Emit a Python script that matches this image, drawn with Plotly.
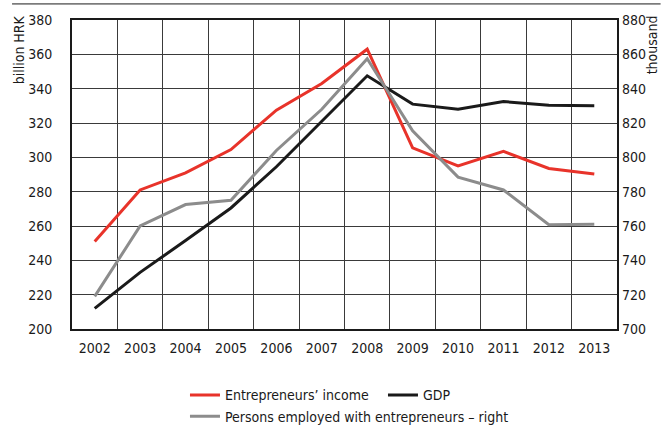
import plotly.graph_objects as go

years = ["2002", "2003", "2004", "2005", "2006", "2007", "2008",
         "2009", "2010", "2011", "2012", "2013"]
income = [251, 281, 291, 304.5, 327.5, 343, 363, 305.5, 295, 303.5, 293.5, 290.3]
gdp = [212, 233, 251.5, 270.5, 294.5, 321, 347.5, 331, 328, 332.5, 330.3, 330]
employed = [719, 760, 772.5, 775, 804, 828, 857.5, 815.5, 788.5, 781, 760.7, 761]

FONT = "Liberation Sans Narrow, DejaVu Sans Condensed, Arial Narrow, sans-serif"

fig = go.Figure()
fig.add_trace(go.Scatter(x=years, y=income, mode="lines", name="Entrepreneurs’ income",
                         line=dict(color="#e8332a", width=3)))
fig.add_trace(go.Scatter(x=years, y=gdp, mode="lines", name="GDP",
                         line=dict(color="#1a1a1a", width=3)))
fig.add_trace(go.Scatter(x=years, y=employed, mode="lines", yaxis="y2",
                         name="Persons employed with entrepreneurs – right",
                         line=dict(color="#8c8c8c", width=3)))

fig.update_layout(
    width=662, height=428,
    margin=dict(l=72, r=45, t=20, b=99, autoexpand=False),
    paper_bgcolor="white", plot_bgcolor="white",
    font=dict(family=FONT, size=14, color="#1a1a1a"),
    showlegend=True,
    legend=dict(orientation="h", x=0.2073, xanchor="left", y=-0.163, yanchor="top",
                entrywidth=153, font=dict(size=14), tracegroupgap=0,
                bgcolor="rgba(0,0,0,0)"),
    xaxis=dict(type="category", tickson="boundaries", ticks="", showgrid=True,
               gridcolor="#3a3a3a", gridwidth=1, showline=True, mirror=True,
               linecolor="#1a1a1a", linewidth=2, range=[-0.5, 11.5],
               ticklabelstandoff=5),
    yaxis=dict(range=[200, 380], dtick=20, showgrid=True, gridcolor="#3a3a3a",
               gridwidth=1, showline=True, mirror=True, linecolor="#1a1a1a",
               linewidth=2, ticks="", ticklabelstandoff=15, zeroline=False),
    yaxis2=dict(range=[700, 880], dtick=20, overlaying="y", side="right",
                showgrid=False, ticks="", ticklabelstandoff=4, zeroline=False,
                showline=False),
)

fig.add_annotation(text="billion HRK", xref="paper", yref="paper", x=0, y=1.02,
                   xshift=-53, xanchor="center", yanchor="top", textangle=-90,
                   showarrow=False, font=dict(size=14))
fig.add_annotation(text="thousand", xref="paper", yref="paper", x=1, y=1.02,
                   xshift=35, xanchor="center", yanchor="top", textangle=-90,
                   showarrow=False, font=dict(size=14))

fig.add_shape(type="line", xref="paper", yref="paper", x0=-0.11, x1=1.08,
              y0=1.052, y1=1.052, line=dict(color="#1a1a1a", width=1))

fig.write_html("out.html", config={"displayModeBar": False},
               post_script="document.body.style.margin='0';")
